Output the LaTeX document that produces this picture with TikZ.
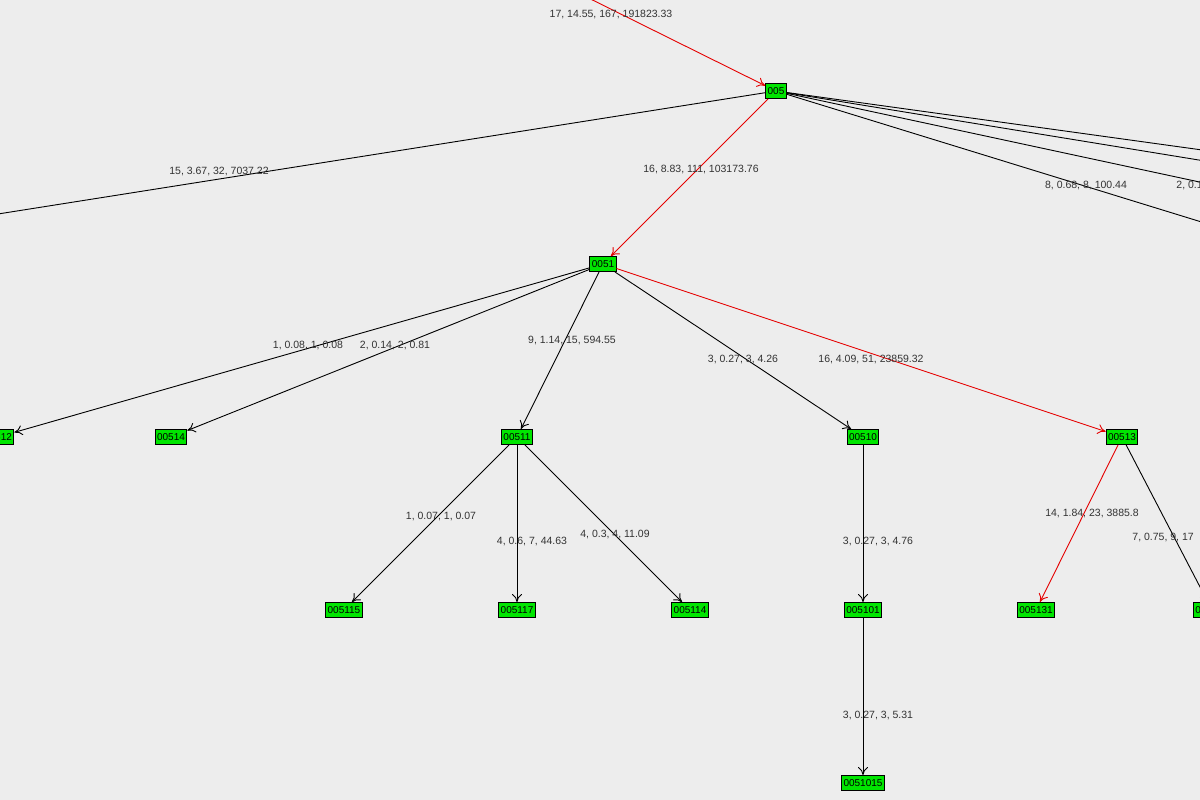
\documentclass[tikz,border=0pt]{standalone}
\usepackage{fontspec}
\setmainfont{Liberation Sans}
\usetikzlibrary{arrows.meta}
\begin{document}
\begin{tikzpicture}[x=1pt,y=-1pt,line width=0.9pt,
  nd/.style={draw=black,fill=green!90!black,inner xsep=2pt,inner ysep=1pt,minimum height=15pt,font=\fontsize{10}{11}\selectfont},
  lb/.style={font=\fontsize{10.5}{12}\selectfont,text=black!80},
  ed/.style={draw=black,-{To[length=8pt,width=10pt]}},
  re/.style={draw=red!90!black,-{To[length=8pt,width=10pt]}}]
\fill[black!7] (0,0) rectangle (1200,800);
\useasboundingbox (0,0) rectangle (1200,800);
\clip (0,0) rectangle (1200,800);
\node[nd] (n005) at (776,91) {005};
\node[nd] (n0051) at (603,264) {0051};
\node[nd] (n00512) at (-2,437) {00512};
\node[nd] (n00514) at (171,437) {00514};
\node[nd] (n00511) at (517,437) {00511};
\node[nd] (n00510) at (863,437) {00510};
\node[nd] (n00513) at (1122,437) {00513};
\node[nd] (n005115) at (344,610) {005115};
\node[nd] (n005117) at (517,610) {005117};
\node[nd] (n005114) at (690,610) {005114};
\node[nd] (n005101) at (863,610) {005101};
\node[nd] (n005131) at (1036,610) {005131};
\node[nd] (n005132) at (1212,610) {005132};
\node[nd] (n0051015) at (863,783) {0051015};
\coordinate (top) at (532,-30);
\coordinate (lft) at (-40,220);
\coordinate (r1) at (1260,158);
\coordinate (r2) at (1260,170);
\coordinate (r3) at (1260,195);
\coordinate (r4) at (1260,240);
\draw[re] (top) -- (n005);
\draw (n005) -- (lft);
\draw (n005) -- (r1);
\draw (n005) -- (r2);
\draw (n005) -- (r3);
\draw (n005) -- (r4);
\draw[re] (n005) -- (n0051);
\draw[ed] (n0051) -- (n00512);
\draw[ed] (n0051) -- (n00514);
\draw[ed] (n0051) -- (n00511);
\draw[ed] (n0051) -- (n00510);
\draw[re] (n0051) -- (n00513);
\draw[ed] (n00511) -- (n005115);
\draw[ed] (n00511) -- (n005117);
\draw[ed] (n00511) -- (n005114);
\draw[ed] (n00510) -- (n005101);
\draw[re] (n00513) -- (n005131);
\draw[ed] (n00513) -- (n005132);
\draw[ed] (n005101) -- (n0051015);
\node[lb] (l1) at (611,15) {17, 14.55, 167, 191823.33};
\node[lb] (l2) at (219,172) {15, 3.67, 32, 7037.22};
\node[lb] (l3) at (701,170) {16, 8.83, 111, 103173.76};
\node[lb] (l4) at (1086,186) {8, 0.68, 8, 100.44};
\node[lb,anchor=west,inner sep=0pt] (l5) at (1176,186) {2, 0.1};
\node[lb] (l6) at (308,346) {1, 0.08, 1, 0.08};
\node[lb] (l7) at (395,346) {2, 0.14, 2, 0.81};
\node[lb] (l8) at (572,341) {9, 1.14, 15, 594.55};
\node[lb] (l9) at (743,360) {3, 0.27, 3, 4.26};
\node[lb] (l10) at (871,360) {16, 4.09, 51, 23859.32};
\node[lb] (l11) at (441,517) {1, 0.07, 1, 0.07};
\node[lb] (l12) at (532,542) {4, 0.6, 7, 44.63};
\node[lb] (l13) at (615,535) {4, 0.3, 4, 11.09};
\node[lb] (l14) at (878,542) {3, 0.27, 3, 4.76};
\node[lb] (l15) at (1092,514) {14, 1.84, 23, 3885.8};
\node[lb,anchor=west,inner sep=0pt] (l16) at (1132,538) {7, 0.75, 9, 17};
\node[lb] (l17) at (878,715) {3, 0.27, 3, 5.31};
\end{tikzpicture}
\end{document}
